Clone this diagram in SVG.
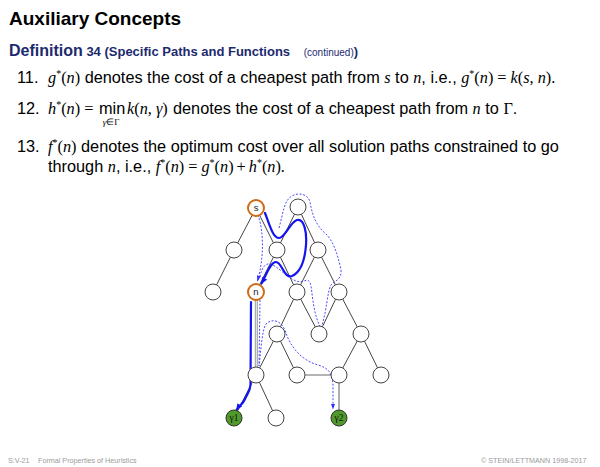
<svg xmlns="http://www.w3.org/2000/svg" width="600" height="467" viewBox="0 0 600 467">
<style>
.title{font-family:"Liberation Sans",Arial,sans-serif;font-weight:bold;font-size:19px;fill:#000}
.def{font-family:"Liberation Sans",Arial,sans-serif;font-weight:bold;fill:#1c2a6e}
.body{font-family:"Liberation Sans",Arial,sans-serif;font-size:16.3px;fill:#000}
.mi{font-family:"Liberation Serif","Times New Roman",serif;font-style:italic}
.mr{font-family:"Liberation Serif","Times New Roman",serif;font-style:normal}
.foot{font-family:"Liberation Sans",Arial,sans-serif;font-size:7.2px;fill:#9a9a9a}
.edge{stroke:#444;stroke-width:1;fill:none}
.gedge{stroke:#9a9a9a;stroke-width:1.6;fill:none}
.node{fill:#fff;stroke:#444;stroke-width:1}
.mark{fill:#fff;stroke:#d06a14;stroke-width:2}
.goal{fill:#4f9a2a;stroke:#333;stroke-width:1}
.lbl{font-family:"Liberation Sans",Arial,sans-serif;font-size:9.5px;fill:#222;text-anchor:middle}
.glbl{font-family:"Liberation Serif",serif;font-size:9.5px;fill:#111;text-anchor:middle}
.solid{stroke:#1414f0;stroke-width:2.2;fill:none;stroke-linecap:round}
.dot{stroke:#4a4aff;stroke-width:1;fill:none;stroke-dasharray:2 1.6}
</style>
<defs>
<marker id="ah" viewBox="0 0 10 10" refX="9" refY="5" markerWidth="7" markerHeight="7" orient="auto" markerUnits="userSpaceOnUse">
<path d="M0,1 L10,5 L0,9 z" fill="#1414f0"/>
</marker>
<marker id="ahd" viewBox="0 0 10 10" refX="9" refY="5" markerWidth="6" markerHeight="6" orient="auto" markerUnits="userSpaceOnUse">
<path d="M0,1.5 L10,5 L0,8.5 z" fill="#3030ff"/>
</marker>
</defs>

<rect width="600" height="467" fill="#fff"/>

<text class="title" x="9" y="25">Auxiliary Concepts</text>
<text class="def" x="9" y="56"><tspan font-size="16px">Definition</tspan><tspan font-size="13px"> 34 (Specific Paths and Functions </tspan><tspan font-size="10px" font-weight="normal" dx="10">(continued)</tspan><tspan font-size="13px">)</tspan></text>

<text class="body" x="17" y="83">11.</text>
<text class="body" x="48" y="83"><tspan class="mi">g</tspan><tspan class="mr" font-size="10px" dy="-6">*</tspan><tspan class="mr" dy="6">(</tspan><tspan class="mi">n</tspan><tspan class="mr">)</tspan> denotes the cost of a cheapest path from <tspan class="mi">s</tspan> to <tspan class="mi">n</tspan>, i.e., <tspan class="mi">g</tspan><tspan class="mr" font-size="10px" dy="-6">*</tspan><tspan class="mr" dy="6">(</tspan><tspan class="mi">n</tspan><tspan class="mr">)</tspan><tspan class="mr" dx="4">=</tspan><tspan class="mi" dx="4">k</tspan><tspan class="mr">(</tspan><tspan class="mi">s</tspan><tspan class="mr">, </tspan><tspan class="mi">n</tspan><tspan class="mr">).</tspan></text>

<text class="body" x="17" y="114">12.</text>
<text class="body" x="48" y="114"><tspan class="mi">h</tspan><tspan class="mr" font-size="10px" dy="-6">*</tspan><tspan class="mr" dy="6">(</tspan><tspan class="mi">n</tspan><tspan class="mr">)</tspan><tspan class="mr" dx="4">=</tspan></text>
<text class="body" x="99" y="114" font-size="15px">min</text>
<text class="mr" x="111" y="125" font-size="9px" text-anchor="middle"><tspan class="mi">γ</tspan>∈Γ</text>
<text class="body" x="127" y="114"><tspan class="mi">k</tspan><tspan class="mr">(</tspan><tspan class="mi">n</tspan><tspan class="mr">, </tspan><tspan class="mi">γ</tspan><tspan class="mr">)</tspan></text>
<text class="body" x="173" y="114">denotes the cost of a cheapest path from <tspan class="mi">n</tspan> to <tspan class="mr">Γ</tspan>.</text>

<text class="body" x="17" y="152">13.</text>
<text class="body" x="48" y="152"><tspan class="mi">f</tspan><tspan class="mr" font-size="10px" dy="-6">*</tspan><tspan class="mr" dy="6">(</tspan><tspan class="mi">n</tspan><tspan class="mr">)</tspan> denotes the optimum cost over all solution paths constrained to go</text>
<text class="body" x="48" y="172">through <tspan class="mi">n</tspan>, i.e., <tspan class="mi">f</tspan><tspan class="mr" font-size="10px" dy="-6">*</tspan><tspan class="mr" dy="6">(</tspan><tspan class="mi">n</tspan><tspan class="mr">)</tspan><tspan class="mr" dx="4">=</tspan><tspan class="mi" dx="4">g</tspan><tspan class="mr" font-size="10px" dy="-6">*</tspan><tspan class="mr" dy="6">(</tspan><tspan class="mi">n</tspan><tspan class="mr">)</tspan><tspan class="mr" dx="3">+</tspan><tspan class="mi" dx="3">h</tspan><tspan class="mr" font-size="10px" dy="-6">*</tspan><tspan class="mr" dy="6">(</tspan><tspan class="mi">n</tspan><tspan class="mr">).</tspan></text>

<g id="connectors">
<line class="edge" x1="256" y1="208" x2="234" y2="250"/>
<line class="edge" x1="256" y1="208" x2="277" y2="250"/>
<line class="edge" x1="298" y1="207" x2="277" y2="250"/>
<line class="edge" x1="298" y1="207" x2="318" y2="250"/>
<line class="edge" x1="234" y1="250" x2="213" y2="292"/>
<line class="edge" x1="277" y1="250" x2="256" y2="292"/>
<line class="edge" x1="277" y1="250" x2="297" y2="292"/>
<line class="edge" x1="318" y1="250" x2="297" y2="292"/>
<line class="edge" x1="318" y1="250" x2="339" y2="292"/>
<line class="edge" x1="297" y1="292" x2="277" y2="334"/>
<line class="edge" x1="297" y1="292" x2="319" y2="334"/>
<line class="edge" x1="339" y1="292" x2="319" y2="334"/>
<line class="edge" x1="339" y1="292" x2="361" y2="334"/>
<line class="edge" x1="277" y1="334" x2="256" y2="375"/>
<line class="edge" x1="277" y1="334" x2="297" y2="375"/>
<line class="edge" x1="361" y1="334" x2="339" y2="375"/>
<line class="edge" x1="361" y1="334" x2="381" y2="375"/>
<line class="edge" x1="256" y1="375" x2="234" y2="418"/>
<line class="edge" x1="256" y1="375" x2="276" y2="418"/>
<line x1="256.3" y1="292" x2="256.3" y2="375" stroke="#9a9a9a" stroke-width="3"/>
<line x1="256.3" y1="292" x2="256.3" y2="375" stroke="#fff" stroke-width="0.9"/>
<line class="gedge" x1="297" y1="375" x2="339" y2="375"/>
<line class="gedge" x1="339" y1="375" x2="339" y2="418"/>

<path class="dot" d="M258,215 C264,232 264,258 257.5,281" marker-end="url(#ahd)"/>
<path class="dot" d="M279,228 C283,214 284,200 292,196 C299,192 308,194 310,202 C312,214 316,226 326,234 C334,242 338,256 341,270 C342,280 334,281 331,285 C327,292 327,312 321,328 C314,316 313,300 311,286 C309,275 304,284 296,281 C286,277 278,266 270,264 C265,263 262,268 260,276"/>
<path class="dot" d="M260,300 L259,366 C261,350 262,330 266,324 C272,318 282,320 286,333 C290,345 300,360 318,365 C328,368 332,372 333,385 L333,409" marker-end="url(#ahd)"/>

<path class="solid" d="M265,213 C270,226 273,238 279,238 C285,238 290,222 297,220 C304,218 307,232 306,245 C305,258 301,272 292,276 C284,279 282,262 276,262 C270,262 266,276 261.5,283.5" marker-end="url(#ah)"/>
<path class="solid" d="M251,302 L250.5,385 C250,392 247,394 245,399 C243,404 239,406 236.5,410" marker-end="url(#ah)"/>
</g>

<g id="s"><circle class="mark" cx="256" cy="208" r="8"/><text class="lbl" x="256" y="211">s</text></g>
<g id="t"><circle class="node" cx="298" cy="207" r="8"/></g>
<g id="a"><circle class="node" cx="234" cy="250" r="8"/></g>
<g id="b"><circle class="node" cx="277" cy="250" r="8"/></g>
<g id="c"><circle class="node" cx="318" cy="250" r="8"/></g>
<g id="d"><circle class="node" cx="213" cy="292" r="8"/></g>
<g id="n"><circle class="mark" cx="256" cy="292" r="8"/><text class="lbl" x="256" y="295">n</text></g>
<g id="e"><circle class="node" cx="297" cy="292" r="8"/></g>
<g id="f"><circle class="node" cx="339" cy="292" r="8"/></g>
<g id="g"><circle class="node" cx="277" cy="334" r="8"/></g>
<g id="h"><circle class="node" cx="319" cy="334" r="8"/></g>
<g id="i"><circle class="node" cx="361" cy="334" r="8"/></g>
<g id="j"><circle class="node" cx="256" cy="375" r="8"/></g>
<g id="k"><circle class="node" cx="297" cy="375" r="8"/></g>
<g id="l"><circle class="node" cx="339" cy="375" r="8"/></g>
<g id="m"><circle class="node" cx="381" cy="375" r="8"/></g>
<g id="gamma1"><circle class="goal" cx="234" cy="418" r="8"/><text class="glbl" x="234" y="421">γ1</text></g>
<g id="o"><circle class="node" cx="276" cy="418" r="8"/></g>
<g id="gamma2"><circle class="goal" cx="339" cy="418" r="8"/><text class="glbl" x="339" y="421">γ2</text></g>

<text class="foot" x="8" y="463">S:V-21</text>
<text class="foot" x="38" y="463">Formal Properties of Heuristics</text>
<text class="foot" x="481" y="463">© STEIN/LETTMANN 1998-2017</text>
</svg>
